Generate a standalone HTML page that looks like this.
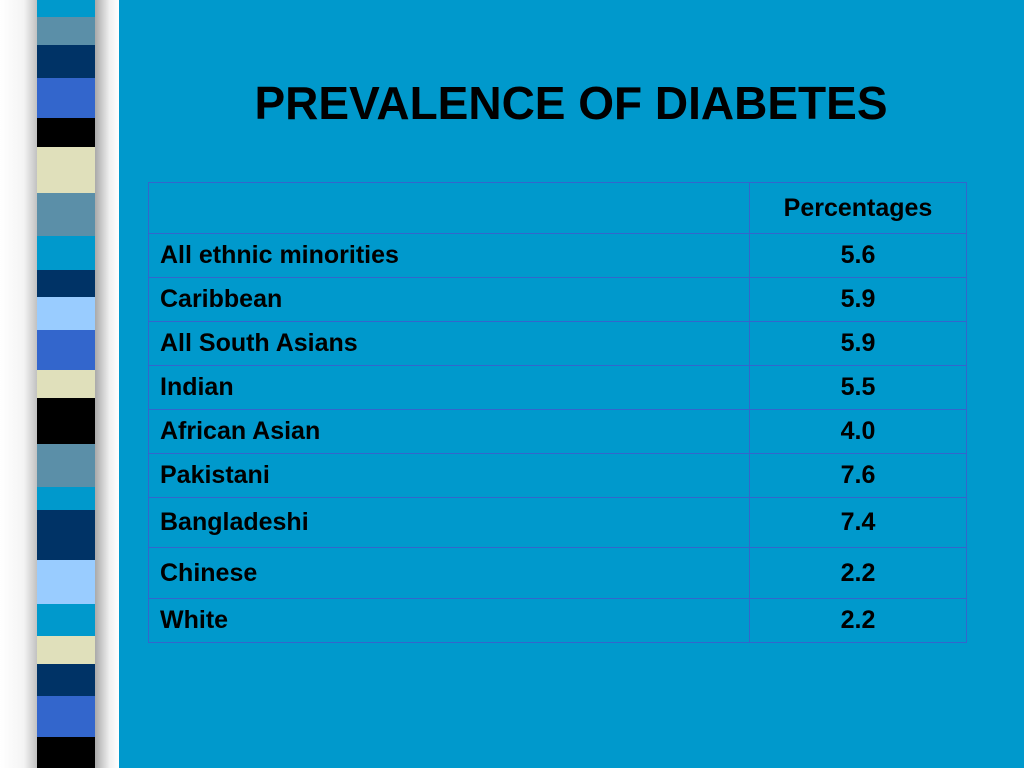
<!DOCTYPE html>
<html><head><meta charset="utf-8"><style>
body{margin:0;width:1024px;height:768px;overflow:hidden;background:#0099cc;font-family:"Liberation Sans",Arial,sans-serif;position:relative}
#side{position:absolute;left:0;top:0;width:119px;height:768px;background:linear-gradient(90deg,#fff 0,#f4f4f4 20%,#999 40%,#aaa 80%,#f0f0f0 92%,#fff 100%)}
.s{position:absolute;left:37px;width:58px}
h1{position:absolute;left:120px;right:0;top:76px;margin:0;text-align:center;font-size:46px;font-weight:bold;color:#000;transform:translateX(-1px)}
table{position:absolute;left:148px;top:182px;width:819px;border-collapse:collapse}
td{border:1.5px solid #3366cc;font-size:25px;font-weight:bold;color:#000;padding:0 11px;height:43px}
td.v{text-align:center;width:194px}
</style></head><body>
<div id="side"></div>
<h1>PREVALENCE OF DIABETES</h1>
<table>
<tr style="height:51px"><td></td><td class="v">Percentages</td></tr>
<tr><td>All ethnic minorities</td><td class="v">5.6</td></tr>
<tr><td>Caribbean</td><td class="v">5.9</td></tr>
<tr><td>All South Asians</td><td class="v">5.9</td></tr>
<tr><td>Indian</td><td class="v">5.5</td></tr>
<tr><td>African Asian</td><td class="v">4.0</td></tr>
<tr><td>Pakistani</td><td class="v">7.6</td></tr>
<tr style="height:50px"><td>Bangladeshi</td><td class="v">7.4</td></tr>
<tr style="height:51px"><td>Chinese</td><td class="v">2.2</td></tr>
<tr><td>White</td><td class="v">2.2</td></tr>
</table>
<script>
const stripes=[[0,17,'#0099cc'],[17,45,'#5b8fa8'],[45,78,'#003366'],[78,118,'#3366cc'],[118,147,'#000'],[147,193,'#e0e0bb'],[193,236,'#5b8fa8'],[236,270,'#0099cc'],[270,297,'#003366'],[297,330,'#99ccff'],[330,370,'#3366cc'],[370,398,'#e0e0bb'],[398,444,'#000'],[444,487,'#5b8fa8'],[487,510,'#0099cc'],[510,560,'#003366'],[560,604,'#99ccff'],[604,636,'#0099cc'],[636,664,'#e0e0bb'],[664,696,'#003366'],[696,737,'#3366cc'],[737,768,'#000']];
const side=document.getElementById('side');
stripes.forEach(s=>{const d=document.createElement('div');d.className='s';d.style.top=s[0]+'px';d.style.height=(s[1]-s[0])+'px';d.style.background=s[2];


side.appendChild(d);});
</script>
</body></html>
